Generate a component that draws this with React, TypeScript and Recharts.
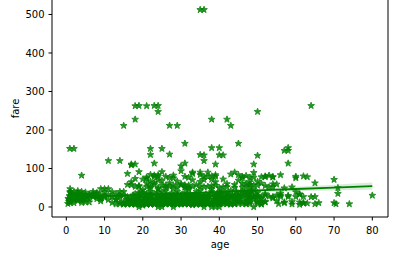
import { ComposedChart, XAxis, YAxis, Scatter, Line, Area, ReferenceLine } from "recharts";

// age / fare pairs, grouped by age band
const children: [number, number][] = [
  [0.42, 8.5], [0.67, 14.5], [0.75, 19.3], [0.75, 19.3], [0.83, 29], [0.83, 18.8], [0.83, 14.4],
  [0.92, 151.6], [1, 39.7], [1, 11.1], [1, 46.9], [1, 20.6], [1, 15.7], [1, 37], [1, 16.1],
  [2, 21.1], [2, 27.9], [2, 29.1], [2, 39.7], [2, 26], [2, 151.6], [2, 10.5], [2, 23.1],
  [3, 21.1], [3, 27.9], [3, 41.6], [3, 15.9], [3, 26], [3, 18.8],
  [4, 16.7], [4, 29.1], [4, 39.7], [4, 27.9], [4, 81.9], [4, 11.1], [4, 23],
  [5, 19.3], [5, 27.8], [5, 31.4], [5, 12.5], [6, 33], [6, 12.5], [6, 31.3],
  [7, 39.7], [7, 26.3], [7, 29.1], [8, 21.1], [8, 36.8], [8, 26.3], [8, 34.4],
  [9, 31.4], [9, 46.9], [9, 20.5], [9, 15.2], [10, 27.9], [10, 24.2], [10, 46.9],
  [11, 46.9], [11, 18.8], [11, 120], [12, 11.2], [12, 39], [13, 20.3], [13, 19.5], [13, 7.2],
  [14, 120], [14, 11.2], [14, 30.1], [14, 7.9], [14, 39.7],
  [0.5, 22], [1, 27], [1.5, 33], [2, 18], [2.5, 30], [3, 36], [3.5, 24], [4, 33], [4.5, 20],
  [5, 38], [5.5, 26], [6, 21], [7, 34], [8, 29], [9, 24], [10, 38], [11, 32], [12, 26],
  [13, 34], [14, 25],
];

const teens: [number, number][] = [
  [15, 211.3], [15, 7.2], [15, 14.5], [15, 8], [15, 7.2], [15, 39.7], [15, 30],
  [16, 7.7], [16, 86.5], [16, 57.9], [16, 9.5], [16, 26], [16, 18], [16, 7.8], [16, 10.5], [16, 20.3],
  [17, 110.9], [17, 7.1], [17, 10.5], [17, 57], [17, 14.5], [17, 7.9], [17, 8.7], [17, 108.9],
  [18, 262.4], [18, 227.5], [18, 110.9], [18, 7.8], [18, 11.5], [18, 8.3], [18, 13], [18, 20.2],
  [18, 6.5], [18, 53.1], [18, 73.5], [18, 17.8], [18, 9.8], [18, 14.5],
  [19, 263], [19, 7.9], [19, 8.1], [19, 10.5], [19, 30], [19, 91.1], [19, 53.1], [19, 7.7],
  [19, 26], [19, 6.8], [19, 14.5], [19, 36.8], [19, 0], [19, 8.05],
];

const twenties: [number, number][] = [
  [20, 7.9], [20, 9.2], [20, 7.8], [20, 4], [20, 8.7], [20, 9.8], [20, 15.7], [20, 36.75], [20, 7.2], [20, 26],
  [21, 262.4], [21, 77.3], [21, 7.8], [21, 8.4], [21, 11.5], [21, 73.5], [21, 34.4], [21, 7.7],
  [21, 61.4], [21, 10.5], [21, 26], [21, 16.1], [21, 8.7], [21, 7.9], [21, 6.5], [21, 7.25],
  [22, 151.55], [22, 135.6], [22, 7.2], [22, 9.3], [22, 7.8], [22, 66.6], [22, 10.5], [22, 49.5],
  [22, 13], [22, 7.5], [22, 39.7], [22, 8.05], [22, 55], [22, 21], [22, 29], [22, 7.8],
  [23, 263], [23, 113.3], [23, 82.3], [23, 7.9], [23, 13], [23, 63.4], [23, 15], [23, 7.9],
  [23, 10.5], [23, 78.9], [23, 9.2], [23, 7.55], [23, 7.05],
  [24, 263], [24, 247.5], [24, 69.3], [24, 7.1], [24, 8.05], [24, 16.7], [24, 79.2], [24, 49.5],
  [24, 83.2], [24, 26], [24, 13], [24, 7.8], [24, 15.85], [24, 0], [24, 9.5], [24, 14.5],
  [25, 151.55], [25, 7.2], [25, 55.4], [25, 13], [25, 91.1], [25, 26], [25, 7.65], [25, 17.8],
  [25, 0], [25, 30], [25, 7.05], [25, 8.05],
  [26, 78.85], [26, 8.7], [26, 7.9], [26, 14.45], [26, 56.5], [26, 18.8], [26, 30], [26, 7.8],
  [26, 22], [26, 10.5], [26, 7.75],
  [27, 211.5], [27, 76.7], [27, 53.1], [27, 7.8], [27, 11.1], [27, 13], [27, 30.5], [27, 21],
  [27, 10.5], [27, 7.9], [27, 136.8], [27, 13],
  [28, 82.2], [28, 7.9], [28, 26.55], [28, 47.1], [28, 13], [28, 9.5], [28, 56.5], [28, 7.25],
  [28, 22.5], [28, 0], [28, 15.85], [28, 7.9],
  [29, 211.3], [29, 66.6], [29, 7.9], [29, 7.8], [29, 10.5], [29, 26], [29, 30], [29, 21],
  [29, 9.5], [29, 7.05], [29, 27.7], [29, 13], [29, 7.9],
];

const thirties: [number, number][] = [
  [30, 106.4], [30, 93.5], [30, 56.9], [30, 7.2], [30, 8.05], [30, 13], [30, 31], [30, 24.15],
  [30, 7.6], [30, 12.5], [30, 16.1], [30, 21], [30, 7.75],
  [31, 164.9], [31, 113.3], [31, 57], [31, 50.5], [31, 7.8], [31, 18], [31, 52], [31, 20.5],
  [31, 26.25], [31, 7.9], [31, 10.5], [31, 8.05],
  [32, 76.3], [32, 30.5], [32, 7.9], [32, 8.05], [32, 56.5], [32, 15.5], [32, 26], [32, 13],
  [32, 7.75], [32, 7.85], [32, 7.92],
  [33, 90], [33, 53.1], [33, 86.5], [33, 12.3], [33, 9.5], [33, 27.7], [33, 5], [33, 7.9],
  [33, 15.85], [33, 20.5], [33, 8.65],
  [34, 32.5], [34, 26.55], [34, 13], [34, 21], [34, 6.5], [34, 8.05], [34, 10.5], [34, 13],
  [35, 512.3], [35, 135.6], [35, 83.5], [35, 90], [35, 53.1], [35, 26], [35, 7.05], [35, 8.05],
  [35, 21], [35, 26.3], [35, 7.75], [35, 7.05],
  [36, 512.3], [36, 120], [36, 134.5], [36, 71], [36, 78.85], [36, 26.4], [36, 13], [36, 10.5],
  [36, 7.5], [36, 24.15], [36, 17.4], [36, 7.9], [36, 0],
  [37, 53.1], [37, 90], [37, 7.9], [37, 26], [37, 29.7], [37, 9.6], [37, 7.75],
  [38, 227.5], [38, 153.5], [38, 71.3], [38, 80], [38, 7.9], [38, 31.4], [38, 13], [38, 7.2],
  [38, 8.7], [38, 7.05], [38, 0],
  [39, 83.2], [39, 110.9], [39, 79.65], [39, 55.9], [39, 26], [39, 7.9], [39, 13], [39, 29.1],
  [39, 24.15], [39, 0], [39, 13],
];

const forties: [number, number][] = [
  [40, 153.5], [40, 135], [40, 31.4], [40, 27.7], [40, 7.2], [40, 9.5], [40, 39], [40, 15.5], [40, 0],
  [41, 134.5], [41, 51.9], [41, 20.2], [41, 7.85], [41, 14.1], [41, 39.7],
  [42, 227.5], [42, 52], [42, 26.55], [42, 13], [42, 7.55], [42, 32.5], [42, 8.65],
  [43, 211.3], [43, 26.25], [43, 27.7], [43, 6.45], [43, 8.05],
  [44, 90], [44, 57.9], [44, 26], [44, 16.1], [44, 8.05], [44, 7.9],
  [45, 164.9], [45, 83.5], [45, 26.55], [45, 35.5], [45, 13.5], [45, 14.5], [45, 8.05], [45, 28.5],
  [46, 79.2], [46, 75.2], [46, 61.2], [46, 26], [46, 7.9],
  [47, 52], [47, 61.2], [47, 38.5], [47, 14.5], [47, 9], [47, 7.25],
  [48, 52], [48, 76.7], [48, 39.6], [48, 65], [48, 25.9], [48, 7.85], [48, 13], [48, 34.4],
  [49, 110.9], [49, 89.1], [49, 76.7], [49, 56.9], [49, 25.9], [49, 0], [49, 26],
];

const fifties: [number, number][] = [
  [50, 247.5], [50, 133.65], [50, 55.9], [50, 26], [50, 13], [50, 8.05], [50, 28.7],
  [51, 77.96], [51, 61.4], [51, 26.55], [51, 12.5], [51, 7.05], [51, 8.05],
  [52, 78.3], [52, 79.65], [52, 30.5], [52, 13.5], [52, 13],
  [53, 51.5], [53, 81.9], [53, 27.45],
  [54, 77.3], [54, 78.3], [54, 59.4], [54, 51.9], [54, 23], [54, 26],
  [55, 30.5], [55, 16], [55.5, 8.05],
  [56, 83.2], [56, 30.7], [56, 35.5], [56, 26.55],
  [57, 146.5], [57, 10.5], [57, 12.35],
  [58, 153.5], [58, 146.5], [58, 113.3], [58, 29.7], [58, 26.55],
  [59, 51.5], [59, 7.25], [59, 13.5],
];

const seniors: [number, number][] = [
  [60, 79.2], [60, 75.25], [60, 26.55], [60, 39],
  [61, 33.5], [61, 32.3], [61, 6.2], [61, 12.35],
  [62, 80], [62, 26.55], [62, 10.5], [62, 9.7],
  [63, 77.96], [63, 9.6], [64, 263], [64, 26],
  [65, 61.98], [65, 26.55], [65, 7.75], [66, 10.5],
  [70, 71], [70, 10.5], [70.5, 7.75], [71, 49.5], [71, 34.65], [74, 7.8], [80, 30],
];

// the solid crowd of adult fares between about 10 and 45
const crowd: [number, number][] = [
  [16.5, 13], [17, 23], [17.5, 31], [18, 26], [18.5, 21], [19, 16], [19.5, 39], [20, 13],
  [20.5, 24], [21, 31.3], [21.5, 18], [22, 26.5], [22.5, 15.5], [23, 34.4], [23.5, 21], [24, 27.7],
  [24.5, 12.5], [25, 39], [25.5, 23], [26, 30.7], [26.5, 16.1], [27, 26], [27.5, 35.5], [28, 19.5],
  [28.5, 13], [29, 33], [29.5, 22.4], [30, 27.7], [30.5, 15], [31, 37], [31.5, 24], [32, 19.2],
  [32.5, 30], [33, 14.4], [33.5, 26.3], [34, 40], [34.5, 18], [35, 31], [35.5, 12.3], [36, 23.4],
  [36.5, 33.5], [37, 16.1], [37.5, 27], [38, 39.4], [38.5, 20], [39, 14.5], [39.5, 32], [40, 23],
  [40.5, 11.1], [41, 28], [41.5, 17], [42, 36], [42.5, 25], [43, 14.1], [43.5, 30], [44, 21],
  [44.5, 39.6], [45, 18], [45.5, 28.7], [46, 12.9], [46.5, 35], [47, 24], [47.5, 16], [48, 29],
  [48.5, 41], [49, 19], [49.5, 33], [50, 14], [51, 22], [52, 34],
  [17, 16], [18, 34], [19, 24], [20, 44], [21, 21], [22, 33], [23, 25], [24, 37.5], [25, 20],
  [26, 42], [27, 17], [28, 31], [29, 40], [30, 19], [31, 29], [32, 45], [33, 23], [34, 16.7],
  [35, 42], [36, 29.5], [37, 21], [38, 46], [39, 19], [40, 35], [41, 24.5], [42, 17], [43, 42],
  [44, 31], [45, 22], [46, 40], [47, 30], [48, 20], [49, 45], [50, 37],
];

// scattered mid fares, 45 to 100
const midFares: [number, number][] = [
  [17, 65], [19, 55], [20, 72], [21, 52], [22, 84], [23, 58], [24, 46], [25, 68], [26, 50],
  [27, 62], [28, 75], [29, 52], [30, 60], [31, 79], [32, 49], [33, 70], [34, 57], [35, 66],
  [36, 52], [37, 79], [38, 55], [39, 65], [40, 50], [41, 72], [42, 60], [43, 85], [44, 50],
  [45, 69], [46, 51], [47, 81], [48, 58], [50, 66], [52, 55], [55, 59], [57, 49],
];

// regression fit and its confidence band
const fitAges = [0.42, 10, 20, 30, 40, 50, 60, 70, 80];
const fitFares = [24.5, 28.2, 31.9, 35.6, 39.3, 43, 46.7, 50.4, 54];
const ciLow = [18.6, 23.6, 28.8, 33, 36.3, 38.8, 40.9, 42.8, 44.7];
const ciHigh = [30.4, 32.8, 35, 38.2, 42.3, 47.2, 52.5, 58, 63.3];

const xTicks = [0, 10, 20, 30, 40, 50, 60, 70, 80];
const yTicks = [0, 100, 200, 300, 400, 500];

const points = [
  ...children, ...teens, ...twenties, ...thirties, ...forties, ...fifties, ...seniors, ...crowd, ...midFares,
].map(([age, fare]) => ({ age, fare }));

const fit = fitAges.map((age, i) => ({ age, fit: fitFares[i], ci: [ciLow[i], ciHigh[i]] }));

const FONT = "DejaVu Sans, sans-serif";

function Star(props: any) {
  const { cx, cy } = props;
  if (cx == null || cy == null) return null;
  const pts: string[] = [];
  for (let i = 0; i < 10; i++) {
    const r = i % 2 === 0 ? 3.5 : 1.4;
    const a = -Math.PI / 2 + (i * Math.PI) / 5;
    pts.push(`${(cx + r * Math.cos(a)).toFixed(2)},${(cy + r * Math.sin(a)).toFixed(2)}`);
  }
  return <polygon points={pts.join(" ")} fill="green" stroke="green" strokeWidth={1} opacity={0.85} />;
}

export default function App() {
  return (
    <div style={{ position: "absolute", left: 0, top: 0, background: "#fff" }}>
      <ComposedChart width={406} height={256} margin={{ top: 0, right: 18, bottom: 0, left: 0 }}>
        <XAxis
          type="number"
          dataKey="age"
          domain={[-3.74, 84.1]}
          ticks={xTicks}
          allowDataOverflow
          height={39}
          tickSize={3.5}
          tickMargin={6}
          stroke="#000"
          tick={{ fontSize: 10, fill: "#000", fontFamily: FONT }}
          label={{ value: "age", position: "insideBottom", offset: 8, fontSize: 10, fill: "#000", fontFamily: FONT }}
        />
        <YAxis
          type="number"
          dataKey="fare"
          domain={[-26, 537.6]}
          ticks={yTicks}
          allowDataOverflow
          width={52}
          tickSize={3.5}
          tickMargin={4}
          stroke="#000"
          tick={{ fontSize: 10, fill: "#000", fontFamily: FONT }}
          label={{
            content: ({ viewBox }: any) => (
              <text
                x={viewBox.x + 19}
                y={viewBox.y + viewBox.height / 2}
                transform={`rotate(-90 ${viewBox.x + 19} ${viewBox.y + viewBox.height / 2})`}
                textAnchor="middle"
                fontSize={10}
                fontFamily={FONT}
                fill="#000"
              >
                fare
              </text>
            ),
          }}
        />
        <ReferenceLine x={84.1} stroke="#000" />
        <Scatter data={points} shape={Star} isAnimationActive={false} />
        <Area
          data={fit}
          dataKey="ci"
          type="monotone"
          stroke="none"
          fill="green"
          fillOpacity={0.15}
          isAnimationActive={false}
        />
        <Line
          data={fit}
          dataKey="fit"
          stroke="green"
          strokeWidth={1.8}
          dot={false}
          isAnimationActive={false}
        />
      </ComposedChart>
    </div>
  );
}
